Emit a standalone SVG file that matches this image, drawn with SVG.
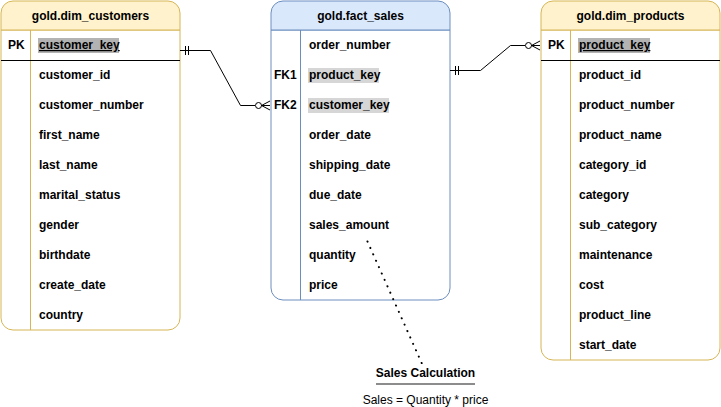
<svg xmlns="http://www.w3.org/2000/svg" width="721" height="407" viewBox="0 0 721 407">
<defs>
<style>
text{font-family:"Liberation Sans",Arial,sans-serif;font-size:12px;fill:#000}
.b{font-weight:bold}
.t{font-weight:bold;text-anchor:middle}
.u{text-decoration:underline}
.yh{fill:#fff2cc;stroke:#d6b656}
.yb{fill:#ffffff;stroke:#d6b656}
.ys{stroke:#d6b656;fill:none}
.bh{fill:#dae8fc;stroke:#6c8ebf}
.bb{fill:#ffffff;stroke:#6c8ebf}
.bs{stroke:#6c8ebf;fill:none}
.hd{fill:#b3b3b3}
.hl{fill:#d6d6d6}
.c{fill:none;stroke:#000;stroke-width:1}
</style>
</defs>
<rect width="721" height="407" fill="#fff"/>

<g id="dim_customers">
<path class="yb" d="M1,30 H180 V318 A12,12 0 0 1 168,330 H13 A12,12 0 0 1 1,318 Z"/>
<path class="yh" d="M13,1 H168 A12,12 0 0 1 180,13 V30 H1 V13 A12,12 0 0 1 13,1 Z"/>
<line class="ys" x1="30.5" y1="30" x2="30.5" y2="330"/>
<line x1="1" y1="60.5" x2="180" y2="60.5" stroke="#000"/>
<text class="t" x="90.5" y="20">gold.dim_customers</text>
<text class="b" x="8" y="49">PK</text>
<rect class="hd" x="38" y="38" width="81" height="15"/>
<text class="b u" x="39" y="49">customer_key</text>
<text class="b" x="39" y="79">customer_id</text>
<text class="b" x="39" y="109">customer_number</text>
<text class="b" x="39" y="139">first_name</text>
<text class="b" x="39" y="169">last_name</text>
<text class="b" x="39" y="199">marital_status</text>
<text class="b" x="39" y="229">gender</text>
<text class="b" x="39" y="259">birthdate</text>
<text class="b" x="39" y="289">create_date</text>
<text class="b" x="39" y="319">country</text>
</g>

<g id="fact_sales">
<path class="bb" d="M271,30 H450 V288 A12,12 0 0 1 438,300 H283 A12,12 0 0 1 271,288 Z"/>
<path class="bh" d="M283,1 H438 A12,12 0 0 1 450,13 V30 H271 V13 A12,12 0 0 1 283,1 Z"/>
<line class="bs" x1="300.5" y1="30" x2="300.5" y2="300"/>
<text class="t" x="360.5" y="20">gold.fact_sales</text>
<text class="b" x="309" y="49">order_number</text>
<text class="b" x="274" y="79">FK1</text>
<rect class="hl" x="308" y="68" width="71" height="15"/>
<text class="b" x="309" y="79">product_key</text>
<text class="b" x="274" y="109">FK2</text>
<rect class="hl" x="308" y="98" width="81" height="15"/>
<text class="b" x="309" y="109">customer_key</text>
<text class="b" x="309" y="139">order_date</text>
<text class="b" x="309" y="169">shipping_date</text>
<text class="b" x="309" y="199">due_date</text>
<text class="b" x="309" y="229">sales_amount</text>
<text class="b" x="309" y="259">quantity</text>
<text class="b" x="309" y="289">price</text>
</g>

<g id="dim_products">
<path class="yb" d="M541,30 H720 V348 A12,12 0 0 1 708,360 H553 A12,12 0 0 1 541,348 Z"/>
<path class="yh" d="M553,1 H708 A12,12 0 0 1 720,13 V30 H541 V13 A12,12 0 0 1 553,1 Z"/>
<line class="ys" x1="570.5" y1="30" x2="570.5" y2="360"/>
<line x1="541" y1="60.5" x2="720" y2="60.5" stroke="#000"/>
<text class="t" x="630.5" y="20">gold.dim_products</text>
<text class="b" x="548" y="49">PK</text>
<rect class="hd" x="578" y="38" width="72" height="15"/>
<text class="b u" x="579" y="49">product_key</text>
<text class="b" x="579" y="79">product_id</text>
<text class="b" x="579" y="109">product_number</text>
<text class="b" x="579" y="139">product_name</text>
<text class="b" x="579" y="169">category_id</text>
<text class="b" x="579" y="199">category</text>
<text class="b" x="579" y="229">sub_category</text>
<text class="b" x="579" y="259">maintenance</text>
<text class="b" x="579" y="289">cost</text>
<text class="b" x="579" y="319">product_line</text>
<text class="b" x="579" y="349">start_date</text>
</g>

<g id="connectors">
<path class="c" d="M180,50.5 H210.5 L240.5,105.5 H255"/>
<line class="c" x1="185.5" y1="46" x2="185.5" y2="55"/>
<line class="c" x1="188.5" y1="46" x2="188.5" y2="55"/>
<circle class="c" cx="258.5" cy="105.5" r="3"/>
<path class="c" d="M270,101 L261.5,105.5 L270,110 M261.5,105.5 H270"/>

<path class="c" d="M450,70.5 H480.5 L510.5,45.5 H525"/>
<line class="c" x1="455.5" y1="66" x2="455.5" y2="75"/>
<line class="c" x1="458.5" y1="66" x2="458.5" y2="75"/>
<circle class="c" cx="528.5" cy="45.5" r="3"/>
<path class="c" d="M540,41 L531.5,45.5 L540,50 M531.5,45.5 H540"/>

<line x1="367.5" y1="241.5" x2="423" y2="366" stroke="#000" stroke-width="2" stroke-dasharray="0.1 6.9" stroke-linecap="round"/>
</g>

<g id="sales_calc">
<text class="t" x="425.5" y="377">Sales Calculation</text>
<line x1="376" y1="384" x2="475" y2="384" stroke="#666" stroke-width="1.5"/>
<text x="425.5" y="404" text-anchor="middle">Sales = Quantity * price</text>
</g>
</svg>
